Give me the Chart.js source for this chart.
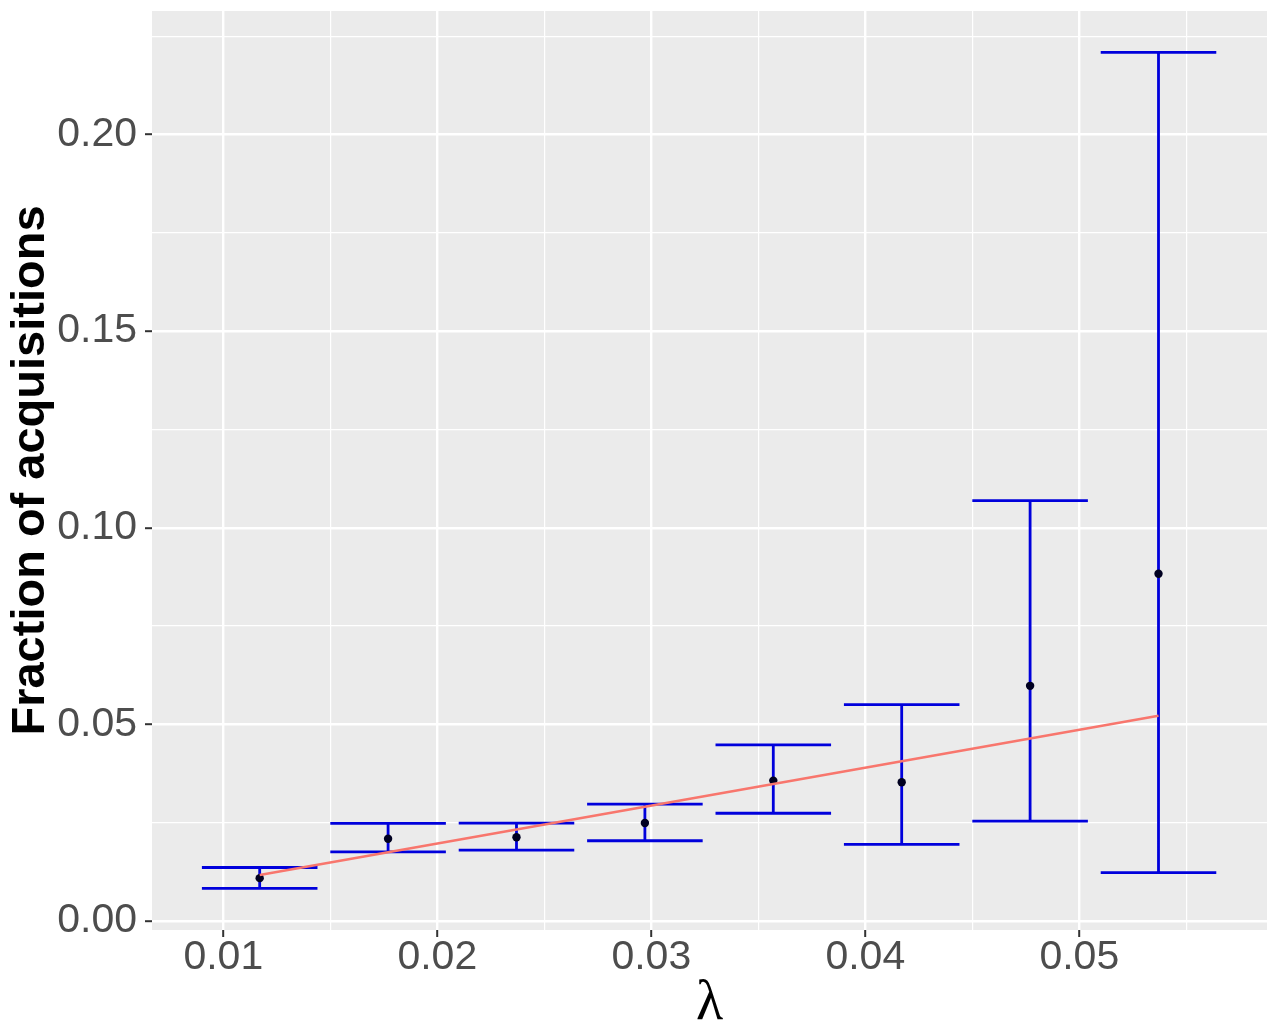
<!DOCTYPE html>
<html>
<head>
<meta charset="utf-8">
<title>Fraction of acquisitions vs lambda</title>
<script src="https://cdn.jsdelivr.net/npm/chart.js@4.4.1/dist/chart.umd.min.js"></script>
<style>
  html, body { margin: 0; padding: 0; background: #ffffff; }
  #wrap { width: 1280px; height: 1035px; }
</style>
</head>
<body>
<div id="wrap"><canvas id="acqChart"></canvas></div>
<script>
// values
const lambdaValues = [0.0117, 0.0177, 0.0237, 0.0297, 0.0357, 0.0417, 0.0477, 0.0537];
const meanValues  = [0.0109, 0.0209, 0.0213, 0.0249, 0.0357, 0.0353, 0.0598, 0.0883];
const upperValues = [0.0136, 0.0248, 0.0249, 0.0297, 0.0448, 0.0550, 0.1069, 0.2209];
const lowerValues = [0.0083, 0.0176, 0.0180, 0.0204, 0.0274, 0.0195, 0.0254, 0.0123];
const fitLambda = [0.0117, 0.0537];
const fitValues = [0.0117, 0.0522];
const capHalfWidth = 0.0027;

const xMajorTicks = [0.01, 0.02, 0.03, 0.04, 0.05];
const xMinorTicks = [0.015, 0.025, 0.035, 0.045, 0.055];
const yMajorTicks = [0.00, 0.05, 0.10, 0.15, 0.20];
const yMinorTicks = [0.025, 0.075, 0.125, 0.175, 0.225];

const FONT = "'Liberation Sans', Arial, Helvetica, sans-serif";

function isMajor(v, majors) {
    return majors.some(function (m) { return Math.abs(m - v) < 1e-9; });
}

function allTicks(majors, minors) {
    return majors.concat(minors).sort(function (a, b) { return a - b; })
        .map(function (v) { return { value: v }; });
}

// caps and vertical segments, broken apart by null points
const errorBarData = [];
lambdaValues.forEach(function (x, i) {
    errorBarData.push({ x: x - capHalfWidth, y: upperValues[i] });
    errorBarData.push({ x: x + capHalfWidth, y: upperValues[i] });
    errorBarData.push({ x: x, y: null });
    errorBarData.push({ x: x, y: lowerValues[i] });
    errorBarData.push({ x: x, y: upperValues[i] });
    errorBarData.push({ x: x, y: null });
    errorBarData.push({ x: x - capHalfWidth, y: lowerValues[i] });
    errorBarData.push({ x: x + capHalfWidth, y: lowerValues[i] });
    errorBarData.push({ x: x, y: null });
});

const meanData = lambdaValues.map(function (x, i) { return { x: x, y: meanValues[i] }; });
const fitData = fitLambda.map(function (x, i) { return { x: x, y: fitValues[i] }; });

const panelBackground = {
    id: "panelBackground",
    beforeDraw(chart) {
        const { ctx, chartArea } = chart;
        ctx.save();
        ctx.fillStyle = "#EBEBEB";
        ctx.fillRect(chartArea.left, chartArea.top, chartArea.width, chartArea.height);
        ctx.restore();
    }
};

function gridFor(majors) {
    return {
        color: "#FFFFFF",
        lineWidth: function (ctx) { return ctx.tick && isMajor(ctx.tick.value, majors) ? 2.4 : 1.2; },
        drawTicks: true,
        tickLength: 7,
        tickWidth: 2,
        tickColor: function (ctx) { return ctx.tick && isMajor(ctx.tick.value, majors) ? "#333333" : "rgba(0,0,0,0)"; }
    };
}

const chartEl = document.getElementById("acqChart").getContext("2d");

new Chart(chartEl, {
    type: "scatter",
    data: {
        datasets: [
            {
                label: "fit",
                data: fitData,
                showLine: true,
                borderColor: "#F8766D",
                borderWidth: 2.5,
                pointRadius: 0,
                order: 0
            },
            {
                label: "mean",
                data: meanData,
                showLine: false,
                backgroundColor: "#000020",
                borderWidth: 0,
                pointRadius: 4.2,
                order: 1
            },
            {
                label: "error",
                data: errorBarData,
                showLine: true,
                spanGaps: false,
                borderColor: "#0000DC",
                borderWidth: 2.8,
                pointRadius: 0,
                order: 2
            }
        ]
    },
    options: {
        responsive: true,
        maintainAspectRatio: false,
        animation: false,
        devicePixelRatio: 1,
        layout: { padding: { top: 11, right: 13, left: 0, bottom: 0 } },
        plugins: {
            legend: { display: false },
            tooltip: { enabled: false }
        },
        scales: {
            x: {
                type: "linear",
                min: 0.006668,
                max: 0.05877,
                border: { display: false },
                grid: gridFor(xMajorTicks),
                afterBuildTicks: function (axis) { axis.ticks = allTicks(xMajorTicks, xMinorTicks); },
                afterFit: function (scale) {
                    scale.height = 105;
                    scale.paddingLeft = 0;
                    scale.paddingRight = 0;
                },
                ticks: {
                    autoSkip: false,
                    maxRotation: 0,
                    padding: 0,
                    color: "#4D4D4D",
                    font: { family: FONT, size: 41, lineHeight: 1 },
                    callback: function (v) { return isMajor(v, xMajorTicks) ? v.toFixed(2) : ""; }
                },
                title: {
                    display: true,
                    text: "λ",
                    color: "#000000",
                    padding: { top: 0, bottom: 3 },
                    font: { family: "'Liberation Serif', 'DejaVu Serif', serif", size: 56, lineHeight: 1 }
                }
            },
            y: {
                type: "linear",
                min: -0.00229,
                max: 0.2314,
                border: { display: false },
                grid: gridFor(yMajorTicks),
                afterBuildTicks: function (axis) { axis.ticks = allTicks(yMajorTicks, yMinorTicks); },
                afterFit: function (scale) {
                    scale.width = 152;
                    scale.paddingTop = 0;
                    scale.paddingBottom = 0;
                },
                ticks: {
                    autoSkip: false,
                    padding: 8,
                    color: "#4D4D4D",
                    font: { family: FONT, size: 41, lineHeight: 1 },
                    callback: function (v) { return isMajor(v, yMajorTicks) ? v.toFixed(2) : ""; }
                },
                title: {
                    display: true,
                    text: "Fraction of acquisitions",
                    color: "#000000",
                    padding: { top: 8, bottom: 0 },
                    font: { family: FONT, size: 47, weight: "bold", lineHeight: 1 }
                }
            }
        }
    },
    plugins: [panelBackground]
});
</script>
</body>
</html>
